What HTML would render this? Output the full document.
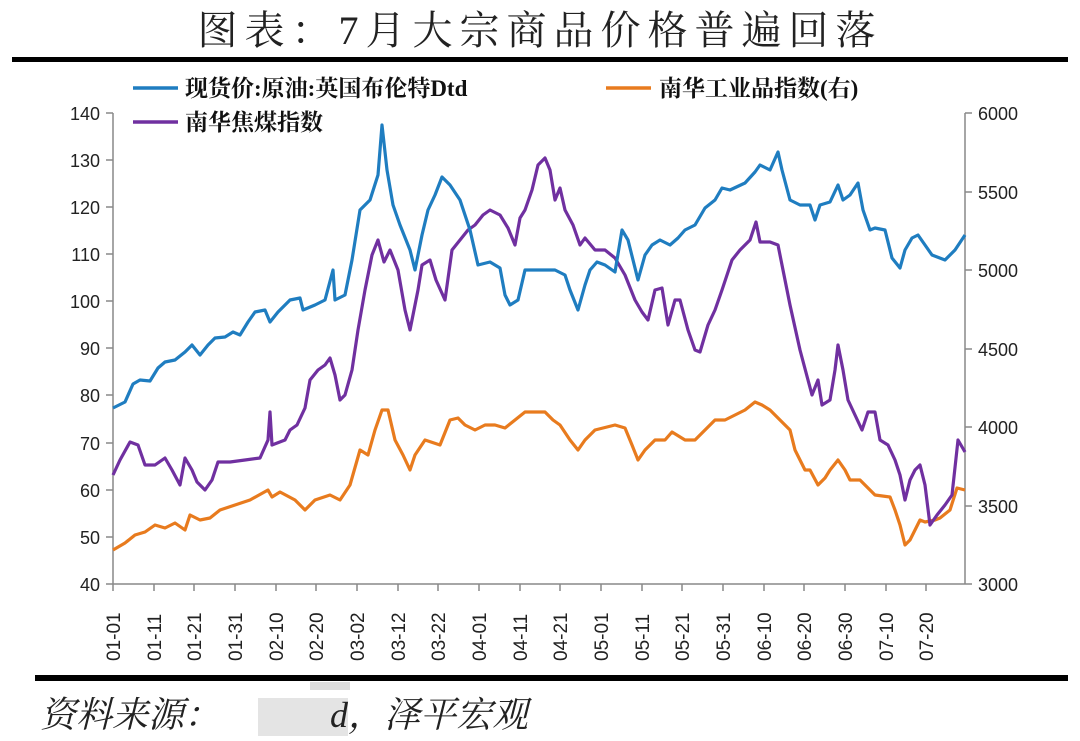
<!DOCTYPE html>
<html><head><meta charset="utf-8"><style>
body{margin:0;background:#fff;width:1080px;height:741px;overflow:hidden;}
svg{display:block}
</style></head><body>
<svg width="1080" height="741" viewBox="0 0 1080 741" xmlns="http://www.w3.org/2000/svg">
<text x="540" y="44" text-anchor="middle" font-family="'Liberation Serif','Noto Serif CJK SC',serif" font-size="40" fill="#222" letter-spacing="7">图表：7月大宗商品价格普遍回落</text>
<rect x="12" y="57" width="1056" height="5" fill="#000"/>
<rect x="35" y="675" width="1033" height="6" fill="#000"/>
<text x="40" y="727" font-family="'Liberation Serif','Noto Serif CJK SC',serif" font-style="italic" font-size="36" fill="#222">资料来源：</text>
<rect x="258" y="698" width="90" height="38" fill="#ddd" opacity="0.8"/>
<rect x="310" y="682" width="40" height="8" fill="#ddd"/>
<text x="330" y="727" font-family="'Liberation Serif','Noto Serif CJK SC',serif" font-style="italic" font-size="36" fill="#222">d，泽平宏观</text>
<g font-family="'Liberation Sans',sans-serif" font-size="18" fill="#222">
<g stroke="#888" stroke-width="1.5">
<line x1="113" y1="113" x2="113" y2="584"/><line x1="965" y1="113" x2="965" y2="584"/><line x1="113" y1="584" x2="965" y2="584"/>
</g>
<g text-anchor="end">
<text x="100" y="120">140</text><text x="100" y="167">130</text><text x="100" y="214">120</text><text x="100" y="261">110</text><text x="100" y="308">100</text><text x="100" y="355">90</text><text x="100" y="402">80</text><text x="100" y="450">70</text><text x="100" y="497">60</text><text x="100" y="544">50</text><text x="100" y="591">40</text>
</g>
<g stroke="#888" stroke-width="1.5">
<line x1="106" y1="113" x2="113" y2="113"/><line x1="106" y1="160" x2="113" y2="160"/><line x1="106" y1="207" x2="113" y2="207"/><line x1="106" y1="254" x2="113" y2="254"/><line x1="106" y1="301" x2="113" y2="301"/><line x1="106" y1="348" x2="113" y2="348"/><line x1="106" y1="395" x2="113" y2="395"/><line x1="106" y1="443" x2="113" y2="443"/><line x1="106" y1="490" x2="113" y2="490"/><line x1="106" y1="537" x2="113" y2="537"/><line x1="106" y1="584" x2="113" y2="584"/>
<line x1="965" y1="113" x2="972" y2="113"/><line x1="965" y1="192" x2="972" y2="192"/><line x1="965" y1="270" x2="972" y2="270"/><line x1="965" y1="349" x2="972" y2="349"/><line x1="965" y1="427" x2="972" y2="427"/><line x1="965" y1="506" x2="972" y2="506"/><line x1="965" y1="584" x2="972" y2="584"/>
</g>
<text x="978" y="120">6000</text><text x="978" y="199">5500</text><text x="978" y="277">5000</text><text x="978" y="356">4500</text><text x="978" y="434">4000</text><text x="978" y="513">3500</text><text x="978" y="591">3000</text>
</g>
<g font-family="'Liberation Sans',sans-serif" font-size="19" fill="#222" stroke="none">
<g transform="translate(120,661) rotate(-90)"><text>01-01</text></g>
<g transform="translate(161,661) rotate(-90)"><text>01-11</text></g>
<g transform="translate(201,661) rotate(-90)"><text>01-21</text></g>
<g transform="translate(242,661) rotate(-90)"><text>01-31</text></g>
<g transform="translate(283,661) rotate(-90)"><text>02-10</text></g>
<g transform="translate(323,661) rotate(-90)"><text>02-20</text></g>
<g transform="translate(364,661) rotate(-90)"><text>03-02</text></g>
<g transform="translate(405,661) rotate(-90)"><text>03-12</text></g>
<g transform="translate(445,661) rotate(-90)"><text>03-22</text></g>
<g transform="translate(486,661) rotate(-90)"><text>04-01</text></g>
<g transform="translate(527,661) rotate(-90)"><text>04-11</text></g>
<g transform="translate(567,661) rotate(-90)"><text>04-21</text></g>
<g transform="translate(608,661) rotate(-90)"><text>05-01</text></g>
<g transform="translate(649,661) rotate(-90)"><text>05-11</text></g>
<g transform="translate(689,661) rotate(-90)"><text>05-21</text></g>
<g transform="translate(730,661) rotate(-90)"><text>05-31</text></g>
<g transform="translate(771,661) rotate(-90)"><text>06-10</text></g>
<g transform="translate(811,661) rotate(-90)"><text>06-20</text></g>
<g transform="translate(852,661) rotate(-90)"><text>06-30</text></g>
<g transform="translate(893,661) rotate(-90)"><text>07-10</text></g>
<g transform="translate(933,661) rotate(-90)"><text>07-20</text></g>
</g>
<g stroke="#888" stroke-width="1.5">
<line x1="113" y1="584" x2="113" y2="591"/><line x1="154" y1="584" x2="154" y2="591"/><line x1="194" y1="584" x2="194" y2="591"/><line x1="235" y1="584" x2="235" y2="591"/><line x1="276" y1="584" x2="276" y2="591"/><line x1="316" y1="584" x2="316" y2="591"/><line x1="357" y1="584" x2="357" y2="591"/><line x1="398" y1="584" x2="398" y2="591"/><line x1="438" y1="584" x2="438" y2="591"/><line x1="479" y1="584" x2="479" y2="591"/><line x1="520" y1="584" x2="520" y2="591"/><line x1="560" y1="584" x2="560" y2="591"/><line x1="601" y1="584" x2="601" y2="591"/><line x1="642" y1="584" x2="642" y2="591"/><line x1="682" y1="584" x2="682" y2="591"/><line x1="723" y1="584" x2="723" y2="591"/><line x1="764" y1="584" x2="764" y2="591"/><line x1="804" y1="584" x2="804" y2="591"/><line x1="845" y1="584" x2="845" y2="591"/><line x1="886" y1="584" x2="886" y2="591"/><line x1="926" y1="584" x2="926" y2="591"/>
</g>
<g fill="none" stroke-width="3.2" stroke-linejoin="round">
<polyline stroke="#E87B1E" points="113,550 125,543 135,535 145,532 155,525 165,528 175,523 185,530 190,515 200,520 210,518 220,510 235,505 250,500 268,490 272,497 280,492 295,500 305,510 315,500 330,495 340,500 350,485 360,450 368,455 375,430 382,410 388,410 395,440 403,455 410,470 415,455 425,440 440,445 450,420 458,418 465,425 475,430 485,425 495,425 505,428 515,420 525,412 545,412 553,420 560,425 570,440 578,450 585,440 595,430 615,425 625,428 632,445 638,460 645,450 655,440 665,440 672,432 685,440 695,440 705,430 715,420 725,420 735,415 745,410 755,402 762,405 770,410 780,420 790,430 795,450 805,470 810,470 818,485 825,478 830,470 838,460 845,470 850,480 860,480 865,485 875,495 890,497 895,510 900,525 905,545 910,540 920,520 925,522 935,520 940,518 950,510 957,488 965,490"/>
<polyline stroke="#7030A0" points="113,475 120,460 130,442 138,445 145,465 155,465 165,458 172,470 180,485 185,458 192,470 197,482 205,490 212,480 218,462 230,462 245,460 260,458 268,440 270,412 272,445 285,440 290,430 297,425 305,408 310,380 318,370 325,365 330,358 335,375 340,400 345,395 352,370 358,330 365,290 372,255 378,240 384,262 390,250 398,270 405,310 410,330 418,290 422,265 430,260 436,280 445,300 452,250 460,240 468,230 475,225 483,215 490,210 500,215 508,228 515,245 520,218 525,210 532,190 538,165 545,158 550,170 555,200 560,188 565,210 573,225 580,245 585,238 595,250 605,250 615,258 625,275 635,300 642,312 648,320 655,290 662,288 668,325 675,300 680,300 688,330 695,350 700,352 708,325 715,310 722,290 732,260 740,250 750,240 756,222 760,242 770,242 778,245 784,275 790,305 800,350 808,380 812,395 818,380 822,405 830,400 835,370 838,345 843,370 848,400 855,415 862,430 868,412 875,412 880,440 888,445 895,460 900,475 905,500 910,480 915,470 920,465 925,485 930,525 937,515 945,505 952,495 958,440 965,452"/>
<polyline stroke="#1F7DC0" points="113,408 125,402 133,384 140,380 150,381 158,368 165,362 175,360 185,352 192,345 200,355 208,345 215,338 225,337 233,332 240,335 248,322 255,312 265,310 270,322 278,312 290,300 300,298 303,310 315,305 325,300 333,270 335,300 345,295 352,260 360,210 370,200 378,175 382,125 387,170 393,205 400,225 410,250 415,270 422,235 428,210 435,195 442,177 450,185 460,200 470,230 478,265 490,262 500,268 505,295 510,305 518,300 525,270 540,270 555,270 565,275 570,290 578,310 585,285 590,270 597,262 605,265 615,272 622,230 628,240 638,280 645,255 652,245 660,240 670,245 678,238 685,230 695,225 705,208 715,200 722,188 730,190 745,183 755,172 760,165 770,170 778,152 782,170 790,200 800,205 810,205 815,220 820,205 830,202 838,185 843,200 850,195 858,183 863,210 870,230 875,228 885,230 892,258 900,268 905,250 912,238 918,235 925,245 932,255 945,260 955,250 965,235"/>
</g>
<g font-family="'Liberation Serif','Noto Serif CJK SC',serif" font-weight="bold" font-size="23" fill="#111">
<line x1="133" y1="88" x2="178" y2="88" stroke="#1F7DC0" stroke-width="3.5"/>
<text x="185" y="96">现货价:原油:英国布伦特Dtd</text>
<line x1="606" y1="88" x2="651" y2="88" stroke="#E87B1E" stroke-width="3.5"/>
<text x="659" y="96">南华工业品指数(右)</text>
<line x1="133" y1="122" x2="178" y2="122" stroke="#7030A0" stroke-width="3.5"/>
<text x="185" y="130">南华焦煤指数</text>
</g>
</svg>
</body></html>
